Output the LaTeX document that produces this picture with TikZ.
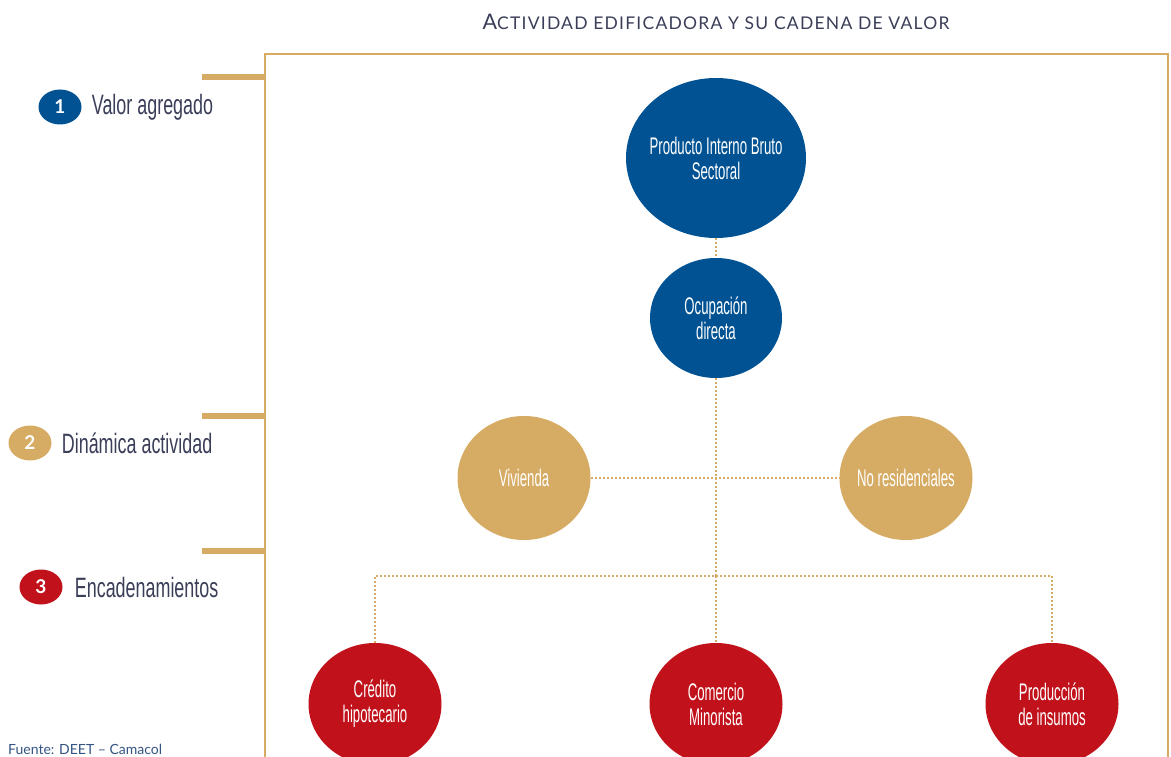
\documentclass[tikz,border=0pt]{standalone}
\usepackage{fontspec}
\usetikzlibrary{shapes.geometric, positioning, math}
\newfontfamily\nodefont[FakeStretch=0.55]{Liberation Sans}
\newfontfamily\labelfont[FakeStretch=0.64]{Liberation Sans}
\newfontfamily\titlefont{Lato}
\newfontfamily\capsfont[LetterSpace=7]{Lato}
\definecolor{pibblue}{RGB}{0,82,147}
\definecolor{gold}{RGB}{214,172,100}
\definecolor{encred}{RGB}{193,18,27}
\definecolor{slate}{RGB}{58,62,88}
\definecolor{srcblue}{RGB}{52,84,130}

\tikzset{
  bubble/.style={ellipse, fill=#1, text=white, align=center, inner xsep=-15pt, inner ysep=-5pt,
    font=\nodefont\fontsize{24}{25}\selectfont},
  num/.style={ellipse, fill=#1, text=white, minimum width=43pt, minimum height=35pt, inner sep=0pt,
    font=\titlefont\bfseries\fontsize{19}{19}\selectfont},
  side/.style={text=slate, font=\labelfont\fontsize{28}{28}\selectfont, inner sep=0pt},
  link/.style={gold, line width=2pt, dash pattern=on 2pt off 2pt},
  bar/.style={gold, line width=6pt}
}

\begin{document}
\begin{tikzpicture}[x=1pt,y=-1pt]
\tikzmath{
\cx=716;
\bus=576;
}
\useasboundingbox (0,0) rectangle (1171,757);

\node[text=slate, font=\capsfont, inner sep=0pt] (title) at (\cx,22)
  {{\fontsize{21.5}{21.5}\selectfont A}{\fontsize{17.5}{17.5}\selectfont CTIVIDAD EDIFICADORA Y SU CADENA DE VALOR}};

% frame and level marks
\draw[gold, line width=2pt] (265,760) -- (265,54) -- (1168,54) -- (1168,760);
\foreach \y in {77,416,551}{
\draw[bar] (202,\y) -- (266,\y);
}

% levels
\node[num=pibblue] (n1) at (60,107) {1};
\node[side, right=10pt of n1] (l1) {Valor agregado};
\node[num=gold] (n2) at (30,443) {2};
\node[side, right=10pt of n2] (l2) {Dinámica actividad};
\node[num=encred] (n3) at (41,587) {3};
\node[side, right=12pt of n3] (l3) {Encadenamientos};

% chain
\node[bubble=pibblue, minimum width=180pt, minimum height=160pt] (pib) at (\cx,158) {Producto Interno Bruto\\Sectoral};
\node[bubble=pibblue, minimum width=132pt, minimum height=120pt] (ocu) at (\cx,318) {Ocupación\\directa};
\node[bubble=gold, minimum width=133pt, minimum height=124pt] (viv) at (524,478) {Vivienda};
\node[bubble=gold, minimum width=133pt, minimum height=124pt] (nores) at (906,478) {No residenciales};
\node[bubble=encred, minimum width=133pt, minimum height=122pt] (cred) at (375,704) {Crédito\\hipotecario};
\node[bubble=encred, minimum width=133pt, minimum height=122pt] (com) at (\cx,704) {Comercio\\Minorista};
\node[bubble=encred, minimum width=133pt, minimum height=122pt] (prod) at (1052,704) {Producción\\de insumos};

\coordinate (split) at (\cx,\bus);
\draw[link] (pib.south) -- (ocu.north);
\draw[link] (ocu.south) -- (split);
\draw[link] (viv.east) -- (nores.west);
\draw[link] (cred.north) -- (cred.north |- split) -- (prod.north |- split) -- (prod.north);
\draw[link] (split) -- (com.north);

\node[anchor=base west, text=srcblue, font=\titlefont\fontsize{14}{14}\selectfont, inner sep=0pt] (src) at (8,754) {Fuente: DEET – Camacol};
\end{tikzpicture}
\end{document}
